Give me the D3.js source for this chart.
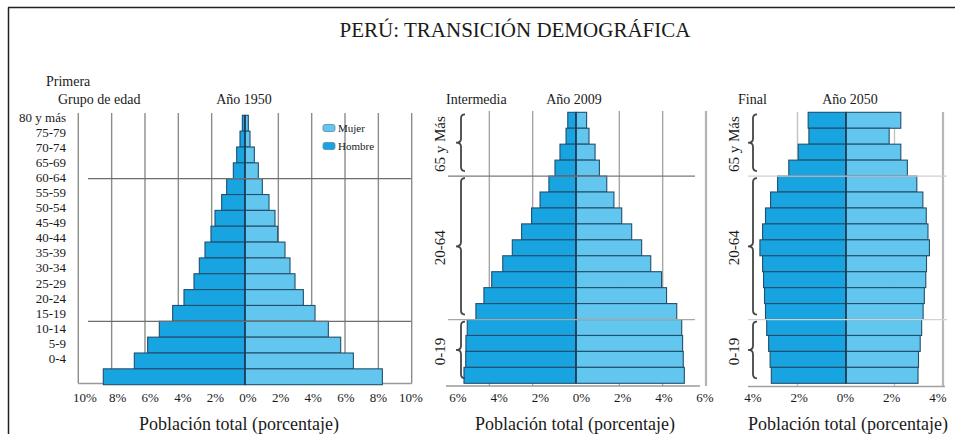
<!DOCTYPE html>
<html>
<head>
<meta charset="utf-8">
<script src="https://cdn.jsdelivr.net/npm/d3@7"></script>
<style>
  html, body { margin: 0; padding: 0; background: #fff; }
  svg { display: block; font-family: "Liberation Serif", "Times New Roman", serif; }
</style>
</head>
<body>
<svg id="chart" width="955" height="434"></svg>
<script>
// ---- Data (percent of total population, top = oldest group) ----
const ageGroups = ["80 y más", "75-79", "70-74", "65-69", "60-64", "55-59", "50-54", "45-49",
  "40-44", "35-39", "30-34", "25-29", "20-24", "15-19", "10-14", "5-9", "0-4"];

const hombre1950 = [0.16, 0.3, 0.5, 0.7, 1.1, 1.4, 1.8, 2.04, 2.4, 2.74, 3.06, 3.66, 4.34, 5.14, 5.84, 6.64, 8.5];
const mujer1950  = [0.2, 0.3, 0.56, 0.8, 1.04, 1.44, 1.8, 1.96, 2.4, 2.7, 3.0, 3.5, 4.2, 5.0, 5.74, 6.5, 8.24];

const hombre2009 = [0.38, 0.46, 0.74, 0.97, 1.25, 1.66, 2.05, 2.51, 2.94, 3.38, 3.89, 4.25, 4.62, 5.02, 5.08, 5.09, 5.17];
const mujer2009  = [0.49, 0.6, 0.88, 1.08, 1.42, 1.75, 2.11, 2.57, 3.03, 3.45, 3.95, 4.18, 4.65, 4.88, 4.92, 4.95, 5.0];

const hombre2050 = [1.56, 1.53, 1.97, 2.36, 2.82, 3.11, 3.32, 3.44, 3.55, 3.44, 3.4, 3.36, 3.32, 3.27, 3.19, 3.13, 3.08];
const mujer2050  = [2.26, 1.78, 2.26, 2.53, 2.92, 3.17, 3.31, 3.38, 3.44, 3.32, 3.29, 3.23, 3.18, 3.12, 3.06, 2.99, 2.97];

const ticks1950 = [-10, -8, -6, -4, -2, 0, 2, 4, 6, 8, 10];
const ticks2009 = [-6, -4, -2, 0, 2, 4, 6];
const ticks2050 = [-4, -2, 0, 2, 4];

const broadGroups = [
  { name: "65 y Más", from: "80 y más", to: "65-69" },
  { name: "20-64", from: "60-64", to: "20-24" },
  { name: "0-19", from: "15-19", to: "0-4" }
];
const stageNames = ["Primera", "Intermedia", "Final"];
const yearNames = ["Año 1950", "Año 2009", "Año 2050"];
const legendItems = ["Mujer", "Hombre"];
const chartTitle = "PERÚ: TRANSICIÓN DEMOGRÁFICA";
const axisTitle = "Población total (porcentaje)";

// ---- Styles ----
const colHombre = "#18a4e1";
const colMujer = "#63c6ef";
const colBarStroke = "#214f6d";
const colCenter = "#1c3a55";

const svg = d3.select("#chart");

// Page frame
svg.append("line").attr("x1", 8).attr("x2", 955).attr("y1", 7.5).attr("y2", 7.5)
  .attr("stroke", "#222").attr("stroke-width", 1.5);
svg.append("line").attr("x1", 8.5).attr("x2", 8.5).attr("y1", 7.5).attr("y2", 434)
  .attr("stroke", "#222").attr("stroke-width", 1.5);

svg.append("text").attr("x", 515).attr("y", 37).attr("text-anchor", "middle")
  .attr("font-size", 21).attr("fill", "#1a1a1a").text(chartTitle);

// ---- Panel layout ----
const panels = [
  {
    stage: stageNames[0], year: yearNames[0], hombre: hombre1950, mujer: mujer1950, ticks: ticks1950,
    max: 10, xr: [78.3, 411.7], lx: [85, 411], yr: [115.3, 384.7],
    grid: { vals: [-10, -8, -6, -4, -2, 2, 4, 6, 8, 10], color: "#8c8c8c", w: 1.4, y0: 113, y1: 383.5 },
    edge: null,
    base: { y: 383.5, x0: 78.3, x1: 411.7, color: "#999" },
    hlines: { x0: 88, x1: 411, colors: ["#6e6e6e", "#6e6e6e"], w: 1.3 },
    yearX: 244, stageX: 46, stageY: 86, titleX: 239,
    ageLabels: true, braces: null
  },
  {
    stage: stageNames[1], year: yearNames[1], hombre: hombre2009, mujer: mujer2009, ticks: ticks2009,
    max: 6, xr: [446, 706], lx: [458, 705], yr: [112.3, 383.3],
    grid: { vals: [-4, -2, 2, 4], color: "#a6a6a6", w: 1.4, y0: 111, y1: 386 },
    edge: { v: 6, color: "#b4b4b4", w: 2.2 },
    base: { y: 386, x0: 446, x1: 700, color: "#9a9a9a" },
    hlines: { x0: 448, x1: 695, colors: ["#7a7a7a", "#a8a8a8"], w: 1.3 },
    yearX: 574, stageX: 446, stageY: 104, titleX: 575,
    ageLabels: false, braces: { x: 461, labelX: 440 }
  },
  {
    stage: stageNames[2], year: yearNames[2], hombre: hombre2050, mujer: mujer2050, ticks: ticks2050,
    max: 4, xr: [749, 943], lx: [753, 938], yr: [112.3, 383.3],
    grid: { vals: [-2, 2], color: "#c4c4c4", w: 1.4, y0: 112, y1: 386 },
    edge: { v: 4, color: "#b8b8b8", w: 2.2 },
    base: { y: 386.5, x0: 748, x1: 945, color: "#a0a0a0" },
    hlines: { x0: 748, x1: 947, colors: ["#cfcfcf", "#d2d2d2"], w: 1.2 },
    yearX: 850, stageX: 738, stageY: 104, titleX: 848,
    ageLabels: false, braces: { x: 753, labelX: 734 }
  }
];

function bracePath(x, y0, y1, d, r) {
  const ym = (y0 + y1) / 2;
  return `M${x + r},${y0} Q${x},${y0} ${x},${y0 + r} L${x},${ym - r} Q${x},${ym} ${x - d},${ym} ` +
         `Q${x},${ym} ${x},${ym + r} L${x},${y1 - r} Q${x},${y1} ${x + r},${y1}`;
}

panels.forEach(p => {
  const g = svg.append("g");
  const x = d3.scaleLinear().domain([-p.max, p.max]).range(p.xr);
  const xl = d3.scaleLinear().domain([-p.max, p.max]).range(p.lx);
  const y = d3.scaleBand().domain(ageGroups).range(p.yr).padding(0);

  // vertical gridlines
  g.selectAll("line.grid").data(p.grid.vals).join("line")
    .attr("x1", d => x(d)).attr("x2", d => x(d))
    .attr("y1", p.grid.y0).attr("y2", p.grid.y1)
    .attr("stroke", p.grid.color).attr("stroke-width", p.grid.w);
  if (p.edge) {
    g.append("line").attr("x1", x(p.edge.v)).attr("x2", x(p.edge.v))
      .attr("y1", p.grid.y0).attr("y2", p.grid.y1)
      .attr("stroke", p.edge.color).attr("stroke-width", p.edge.w);
  }
  // baseline
  g.append("line").attr("x1", p.base.x0).attr("x2", p.base.x1)
    .attr("y1", p.base.y).attr("y2", p.base.y)
    .attr("stroke", p.base.color).attr("stroke-width", 1.3);

  const rows = ageGroups.map((a, i) => ({ age: a, h: p.hombre[i], m: p.mujer[i] }));

  // male bars (left)
  g.selectAll("rect.h").data(rows).join("rect")
    .attr("x", d => x(-d.h)).attr("width", d => x(0) - x(-d.h))
    .attr("y", d => y(d.age)).attr("height", y.bandwidth())
    .attr("fill", colHombre).attr("stroke", colBarStroke).attr("stroke-width", 1.1);
  // female bars (right)
  g.selectAll("rect.m").data(rows).join("rect")
    .attr("x", x(0)).attr("width", d => x(d.m) - x(0))
    .attr("y", d => y(d.age)).attr("height", y.bandwidth())
    .attr("fill", colMujer).attr("stroke", colBarStroke).attr("stroke-width", 1.1);

  // center axis
  g.append("line").attr("x1", x(0)).attr("x2", x(0))
    .attr("y1", p.yr[0]).attr("y2", p.yr[1])
    .attr("stroke", colCenter).attr("stroke-width", 1.6);

  // broad age-group separators
  const seps = [y(broadGroups[1].from), y(broadGroups[2].from)];
  g.selectAll("line.sep").data(seps).join("line")
    .attr("x1", p.hlines.x0).attr("x2", p.hlines.x1)
    .attr("y1", d => d).attr("y2", d => d)
    .attr("stroke", (d, i) => p.hlines.colors[i]).attr("stroke-width", p.hlines.w);

  // x tick labels
  g.selectAll("text.tick").data(p.ticks).join("text")
    .attr("x", d => xl(d)).attr("y", 401.5).attr("text-anchor", "middle")
    .attr("font-size", 13).attr("fill", "#1a1a1a")
    .text(d => Math.abs(d) + "%");

  // axis title
  g.append("text").attr("x", p.titleX).attr("y", 430).attr("text-anchor", "middle")
    .attr("font-size", 18).attr("fill", "#1a1a1a").text(axisTitle);

  // headings
  g.append("text").attr("x", p.yearX).attr("y", 104).attr("text-anchor", "middle")
    .attr("font-size", 14).attr("fill", "#1a1a1a").text(p.year);
  g.append("text").attr("x", p.stageX).attr("y", p.stageY)
    .attr("font-size", 14).attr("fill", "#1a1a1a").text(p.stage);

  if (p.ageLabels) {
    g.append("text").attr("x", 58).attr("y", 104)
      .attr("font-size", 14).attr("fill", "#1a1a1a").text("Grupo de edad");
    const ly = d3.scalePoint().domain(ageGroups).range([117.3, 358.3]);
    g.selectAll("text.age").data(ageGroups).join("text")
      .attr("x", 66).attr("y", d => ly(d)).attr("dy", "0.35em")
      .attr("text-anchor", "end").attr("font-size", 13).attr("fill", "#1a1a1a")
      .text(d => d);

    // legend
    const lg = g.append("g");
    legendItems.forEach((name, i) => {
      const yy = 128 + i * 18;
      lg.append("rect").attr("x", 323).attr("y", yy - 3.5).attr("width", 12).attr("height", 7)
        .attr("rx", 2).attr("fill", name === "Mujer" ? colMujer : colHombre)
        .attr("stroke", "#5a8aa6").attr("stroke-width", 0.8);
      lg.append("text").attr("x", 338).attr("y", yy).attr("dy", "0.35em")
        .attr("font-size", 11).attr("fill", "#1a1a1a").text(name);
    });
  }

  if (p.braces) {
    broadGroups.forEach(bg => {
      const top = y(bg.from) + 2;
      const bot = y(bg.to) + y.bandwidth() - 5;
      g.append("path").attr("d", bracePath(p.braces.x, top, bot, 5, 4))
        .attr("fill", "none").attr("stroke", "#454545").attr("stroke-width", 1.8);
      const mid = (y(bg.from) + y(bg.to) + y.bandwidth()) / 2;
      g.append("text")
        .attr("transform", `translate(${p.braces.labelX},${mid}) rotate(-90)`)
        .attr("text-anchor", "middle").attr("dominant-baseline", "central")
        .attr("font-size", 15).attr("fill", "#1a1a1a").text(bg.name);
    });
  }
});
</script>
</body>
</html>
